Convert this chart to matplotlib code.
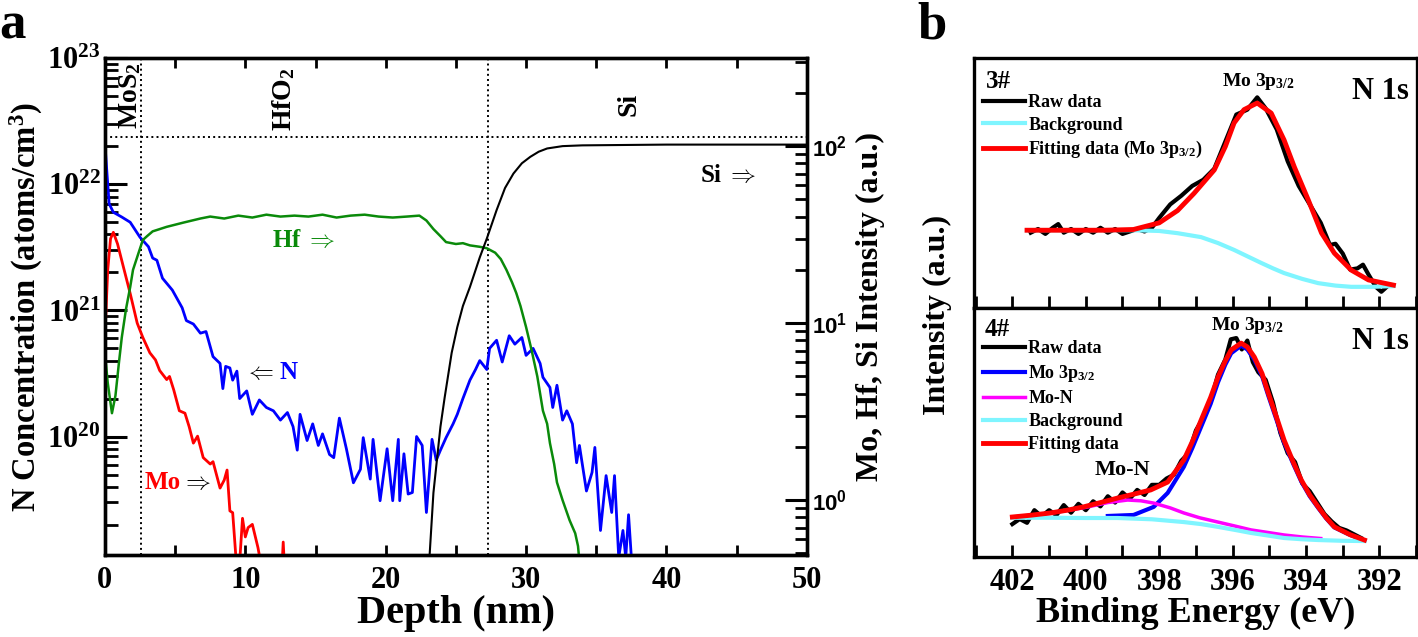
import matplotlib
matplotlib.use("Agg")
import matplotlib.pyplot as plt
from matplotlib.ticker import LogLocator, MultipleLocator, NullFormatter

plt.rcParams['font.family'] = ['Liberation Serif', 'DejaVu Serif']
plt.rcParams['font.weight'] = 'bold'
plt.rcParams['mathtext.fontset'] = 'custom'
plt.rcParams['mathtext.rm'] = 'Liberation Serif:bold'
plt.rcParams['mathtext.bf'] = 'Liberation Serif:bold'
plt.rcParams['mathtext.it'] = 'Liberation Serif:bold:italic'

# ---- panel a: depth profile ----
n_depth = [0.0, 0.15, 0.3, 0.6, 1.2, 1.8, 2.5, 3.1, 3.4, 3.7, 4.1, 4.8, 5.5, 5.8, 6.3, 6.8,
           7.2, 7.7, 8.2, 8.4, 8.6, 8.9, 9.1, 9.4, 9.6, 10.1, 10.5, 11.0, 11.5, 12.0, 12.5,
           13.0, 13.4, 13.7, 13.9, 14.4, 14.8, 15.2, 15.5, 16.0, 16.3, 16.7, 17.2, 17.7,
           18.2, 18.4, 18.9, 19.1, 19.6, 20.1, 20.5, 20.9, 21.0, 21.3, 21.6, 21.9, 22.2,
           22.6, 22.9, 23.3, 23.6, 23.9, 24.3, 24.8, 25.1, 25.5, 26.0, 26.4, 26.7, 27.2,
           27.4, 27.9, 28.3, 28.8, 29.2, 29.7, 30.0, 30.5, 31.0, 31.2, 31.7, 31.9, 32.2,
           32.6, 32.9, 33.3, 33.6, 33.8, 34.3, 34.7, 34.9, 35.3, 35.7, 36.1, 36.3, 36.6,
           36.9, 37.1, 37.3, 37.5, 37.9]
n_conc = [2.1e22, 1.2e22, 7.0e21, 6.0e21, 5.5e21, 5.0e21, 3.8e21, 3.2e21, 2.6e21, 2.5e21,
          1.8e21, 1.45e21, 1.05e21, 8.3e20, 7.8e20, 6.6e20, 6.8e20, 4.3e20, 3.8e20, 2.4e20,
          3.6e20, 3.5e20, 2.8e20, 3.3e20, 2.0e20, 2.3e20, 1.5e20, 1.95e20, 1.7e20, 1.6e20,
          1.35e20, 1.55e20, 1.2e20, 7.8e19, 1.5e20, 9.3e19, 1.26e20, 8.5e19, 1.05e20,
          7.2e19, 6.8e19, 1.4e20, 8.0e19, 4.3e19, 5.5e19, 9.8e19, 4.6e19, 9.5e19, 3.1e19,
          8.0e19, 3.1e19, 9.5e19, 3.1e19, 7.3e19, 3.5e19, 3.6e19, 1.0e20, 8.5e19, 2.5e19,
          9.5e19, 6.5e19, 7.8e19, 9.8e19, 1.26e20, 1.5e20, 2.0e20, 2.8e20, 3.4e20, 4.0e20,
          3.4e20, 5.0e20, 5.8e20, 3.9e20, 6.3e20, 5.4e20, 6.1e20, 4.4e20, 5.0e20, 3.8e20,
          2.95e20, 2.45e20, 1.7e20, 2.55e20, 1.35e20, 1.6e20, 1.26e20, 6.2e19, 8.5e19,
          3.7e19, 5.2e19, 8.2e19, 1.8e19, 4.9e19, 2.5e19, 4.9e19, 1.1e19, 1.8e19, 1.1e19,
          2.4e19, 1.1e19, 1.1e19]

mo_depth = [0.0, 0.2, 0.4, 0.6, 0.9, 1.3, 1.8, 2.3, 2.7, 3.2, 3.6, 3.9, 4.4, 4.6, 4.9, 5.3,
            5.7, 6.0, 6.3, 6.6, 7.0, 7.5, 7.7, 8.2, 8.5, 8.7, 8.9, 9.1, 9.4, 9.6, 9.8, 10.0,
            10.2, 10.5, 10.9, 11.2, 12.6, 12.7, 12.8]
mo_int = [8.5, 20, 30, 32.6, 28, 21, 14.7, 10, 8.3, 6.8, 6.2, 5.4, 4.8, 5.0, 4.2, 3.2,
          3.1, 2.6, 2.1, 2.3, 1.74, 1.6, 1.65, 1.17, 1.3, 1.48, 0.87, 0.85, 0.4, 0.45, 0.79,
          0.62, 0.7, 0.73, 0.54, 0.4, 0.4, 0.58, 0.4]

hf_depth = [0.0, 0.2, 0.5, 0.75, 1.0, 1.2, 1.5, 1.8, 2.0, 2.4, 2.7, 3.0, 3.4, 4.4, 5.6, 6.8,
            7.5, 8.5, 9.5, 10.5, 11.5, 12.5, 13.5, 14.5, 15.5, 16.5, 17.5, 18.5, 19.5, 20.5,
            21.5, 22.4, 22.9, 23.4, 23.9, 24.3, 25.0, 25.5, 26.0, 26.7, 27.2, 27.8, 28.2,
            28.6, 29.0, 29.3, 29.6, 30.0, 30.4, 30.8, 31.2, 31.5, 31.7, 32.0, 32.2, 32.6,
            33.1, 33.5, 33.7, 33.8]
hf_int = [6.8, 4.6, 3.1, 3.9, 6.0, 8.3, 12.0, 16, 20, 25, 29.5, 31, 33, 35, 37, 39,
          40, 39, 40.5, 39.5, 41, 40, 40.5, 40, 41, 39.5, 40.5, 41, 40, 39.5,
          40, 40.5, 38, 34, 31, 28.7, 28, 28.3, 27.5, 27, 26.5, 25, 23,
          20, 17, 14.8, 12.5, 9.5, 7, 5.0, 3.2, 2.7, 2.1, 1.6, 1.26, 1.0,
          0.77, 0.65, 0.55, 0.45]

si_depth = [23.1, 23.4, 23.9, 24.2, 24.7, 25.1, 25.5, 26.0, 26.7, 27.2, 27.9, 28.5, 29.1,
            29.7, 30.3, 30.9, 31.5, 32.6, 34.0, 40.0, 45.0, 50.0]
si_int = [0.45, 1.1, 2.6, 3.8, 6.8, 9.5, 12.5, 16, 23.5, 30, 43.5, 58, 70,
          80, 87, 93, 97, 100, 101, 102, 102, 102]

mos2_edge = 2.6
hfo2_edge = 27.3
top_level = 2.35e22

# ---- panel b: XPS N 1s ----
raw3_e = [401.5, 401.3, 401.1, 400.9, 400.75, 400.6, 400.4, 400.2, 400.0, 399.8, 399.6,
          399.4, 399.2, 399.0, 398.8, 398.6, 398.4, 398.2, 398.0, 397.7, 397.4, 397.1,
          396.8, 396.5, 396.2, 395.9, 395.6, 395.33, 395.1, 394.8, 394.5, 394.2, 393.9,
          393.6, 393.35, 393.2, 393.0, 392.8, 392.6, 392.45, 392.3, 392.1, 391.95, 391.8]
raw3_v = [29, 30.5, 28.5, 31, 32.5, 29, 30.5, 28.5, 30.5, 29, 31, 29, 30.5, 28.5, 29.5,
          30.5, 29.5, 31, 35, 40.5, 44, 48, 50.5, 55, 66, 77, 79, 84, 79.5, 71, 58, 48,
          40.5, 33, 24, 24.5, 20.5, 14, 14.5, 16, 12, 7, 5, 7]
fit3_e = [401.6, 400.5, 399.5, 398.7, 398.0, 397.5, 397.05, 396.5, 396.2, 395.96, 395.69,
          395.33, 394.95, 394.6, 394.32, 393.94, 393.58, 393.23, 392.77, 392.3, 391.62]
fit3_v = [30, 30, 30, 30.3, 33, 38, 45, 54.5, 64, 73.6, 79, 81.7, 77.6, 66.7, 55.7, 42.3,
          28.9, 20.7, 13.8, 9.8, 7.7]
bg3_e = [401.6, 400.0, 398.7, 398.0, 397.5, 396.86, 396.4, 395.96, 395.5, 395.22, 394.9,
         394.6, 394.1, 393.67, 393.2, 392.77, 392.2, 391.62]
bg3_v = [30, 30, 30, 29.7, 28.8, 27.2, 24.8, 22, 18.7, 16.7, 14.5, 12.6, 10.2, 8.5, 7.5,
         7, 7, 7.3]

raw4_e = [402.0, 401.8, 401.6, 401.4, 401.2, 401.0, 400.8, 400.6, 400.4, 400.2, 400.0,
          399.8, 399.6, 399.4, 399.2, 399.0, 398.8, 398.6, 398.4, 398.2, 398.0, 397.8,
          397.6, 397.4, 397.2, 397.0, 396.8, 396.6, 396.4, 396.2, 396.05, 395.9, 395.75,
          395.6, 395.45, 395.3, 395.1, 394.9, 394.7, 394.5, 394.3, 394.1, 393.9, 393.7,
          393.5, 393.3, 393.1, 392.9, 392.7, 392.5]
raw4_v = [13, 15, 13.5, 18.5, 16, 18.5, 16.5, 20.5, 17.5, 21, 18.5, 22, 20, 24, 21.5, 25.5,
          23, 26.5, 24.5, 28.5, 28.5, 31, 32.5, 38, 41, 50, 55, 61.5, 72, 78, 86, 86.5, 82,
          85.5, 77, 73, 70, 61, 49, 41, 37.5, 29, 26, 21.5, 17, 14, 11.5, 10.5, 9, 7.5]
fit4_e = [402.0, 401.5, 400.96, 400.5, 400.06, 399.6, 399.13, 398.7, 398.23, 397.77,
          397.33, 397.1, 396.86, 396.6, 396.4, 396.2, 396.04, 395.77, 395.6, 395.41, 395.2,
          395.03, 394.8, 394.6, 394.35, 394.13, 393.9, 393.67, 393.45, 393.23, 392.8, 392.41]
fit4_v = [15.8, 16.5, 17.4, 18.5, 19.8, 21.5, 23.3, 24.8, 26.5, 29.6, 38.3, 45.5, 54, 63,
          71, 77.5, 81.8, 84.5, 83, 79, 72.5, 64.8, 55, 46.2, 37.5, 30.4, 24.5, 19.8, 15.5,
          11.9, 8.8, 6.7]
peak4_e = [399.4, 398.7, 398.15, 397.77, 397.33, 397.1, 396.86, 396.6, 396.4, 396.2,
           396.04, 395.77, 395.6, 395.41, 395.2, 395.03, 394.8, 394.6, 394.35, 394.13,
           393.9, 393.67, 393.45, 393.23, 392.8, 392.41]
peak4_v = [16.2, 16.6, 19.8, 25.3, 35.6, 43, 51.4, 60.5, 69, 76, 80.5, 83.5, 82, 78, 71.5,
           63.8, 54, 45.3, 36.8, 29.8, 24, 19.4, 15.2, 11.7, 8.7, 6.6]
mon_e = [402.0, 401.0, 400.0, 399.4, 398.86, 398.5, 398.15, 397.7, 397.33, 396.9, 396.4,
         395.9, 395.5, 395.0, 394.6, 394.1, 393.6]
mon_v = [15.8, 17.2, 19.6, 21.5, 22.5, 22.2, 21.3, 19.4, 17.4, 15.5, 13.8, 12.1, 10.7,
         9.6, 8.7, 7.9, 7.3]
bg4_e = [402.0, 401.0, 400.0, 399.13, 398.2, 397.33, 396.86, 396.4, 395.9, 395.5, 395.0,
         394.6, 394.1, 393.67, 393.0, 392.41]
bg4_v = [15.5, 15.5, 15.4, 15.4, 14.9, 13.8, 13.0, 11.9, 10.6, 9.5, 8.4, 7.5, 7.0, 6.7,
         6.4, 6.3]

SERIF = ['Liberation Serif', 'DejaVu Serif']
CYAN = '#7ff5ff'
GREEN = '#0a8a0a'
RARROW = r'$\Rightarrow$'
LARROW = r'$\Leftarrow$'

fig = plt.figure(figsize=(14.18, 6.37), dpi=100)

# ============ panel a ============
ax = fig.add_axes([0.074, 0.1287, 0.495, 0.780])
ax2 = ax.twinx()

ax.semilogy(n_depth, n_conc, color='#0000ff', lw=2.0, zorder=3)
ax2.semilogy(mo_depth, mo_int, color='#ff0000', lw=2.0)
ax2.semilogy(hf_depth, hf_int, color=GREEN, lw=1.8)
ax2.semilogy(si_depth, si_int, color='black', lw=1.5)

ax.axvline(mos2_edge, color='black', ls=':', lw=1.4)
ax.axvline(hfo2_edge, color='black', ls=':', lw=1.4)
ax.axhline(top_level, color='black', ls=':', lw=1.4)

ax.set_xlim(0, 50)
ax.set_ylim(1.15e19, 1e23)
ax2.set_ylim(0.49, 314)

ax.xaxis.set_major_locator(MultipleLocator(10))
ax.xaxis.set_minor_locator(MultipleLocator(5))
ax.yaxis.set_major_locator(LogLocator(base=10))
ax.yaxis.set_minor_locator(LogLocator(base=10, subs=range(2, 10)))
ax.yaxis.set_minor_formatter(NullFormatter())
ax2.yaxis.set_major_locator(LogLocator(base=10))
ax2.yaxis.set_minor_locator(LogLocator(base=10, subs=range(2, 10)))
ax2.yaxis.set_minor_formatter(NullFormatter())

ax.tick_params(axis='x', which='both', direction='in', top=True, length=7, width=2,
               labelsize=22, pad=8)
ax.tick_params(axis='y', which='major', direction='in', length=16, width=2.2,
               labelsize=22, pad=3)
ax.tick_params(axis='y', which='minor', direction='in', length=9, width=2)
ax2.tick_params(axis='y', which='major', direction='in', length=16, width=2.2,
                labelsize=16, pad=4, labelfontfamily='Liberation Sans')
ax2.tick_params(axis='y', which='minor', direction='in', length=9, width=2)
for a in (ax, ax2):
    for s in a.spines.values():
        s.set_linewidth(2.4)

ax.set_xlabel('Depth (nm)', fontsize=29, fontweight='bold', labelpad=0)
ax.set_ylabel('N Concentration (atoms/cm$^3$)', fontsize=23.5, fontweight='bold',
              labelpad=2)
ax2.set_ylabel('Mo, Hf, Si Intensity (a.u.)', fontsize=23, fontweight='bold', labelpad=6)

ax.text(1.8, 5.0e22, 'MoS$_2$', rotation=90, ha='center', va='center', fontsize=20,
        fontweight='bold')
ax.text(12.7, 4.7e22, 'HfO$_2$', rotation=90, ha='center', va='center', fontsize=20,
        fontweight='bold')
ax.text(37.3, 4.3e22, 'Si', rotation=90, ha='center', va='center', fontsize=20,
        fontweight='bold')
ax.text(11.9, 3.6e21, 'Hf ' + RARROW, color=GREEN, ha='left', va='center', fontsize=18,
        fontweight='bold', family=SERIF)
ax.text(10.0, 3.2e20, LARROW, color='black', ha='left', va='center', fontsize=18,
        fontweight='bold', family=SERIF)
ax.text(12.4, 3.2e20, 'N', color='#0000ff', ha='left', va='center', fontsize=18,
        fontweight='bold', family=SERIF)
ax.text(2.85, 4.3e19, 'Mo', color='#ff0000', ha='left', va='center', fontsize=18,
        fontweight='bold', family=SERIF)
ax.text(5.5, 4.3e19, RARROW, color='black', ha='left', va='center', fontsize=18,
        fontweight='bold', family=SERIF)
ax.text(42.4, 1.18e22, 'Si ' + RARROW, color='black', ha='left', va='center', fontsize=18,
        fontweight='bold', family=SERIF)

# ============ panel b ============
ax3 = fig.add_axes([0.687, 0.5165, 0.312, 0.3925])
ax4 = fig.add_axes([0.687, 0.1256, 0.312, 0.391])

ax3.plot(raw3_e, raw3_v, color='black', lw=3, label='Raw data')
ax3.plot(bg3_e, bg3_v, color=CYAN, lw=3, label='Background')
ax3.plot(fit3_e, fit3_v, color='#ff0000', lw=3.5, label='Fitting data (Mo 3p$_{3/2}$)')

ax4.plot(raw4_e, raw4_v, color='black', lw=3, label='Raw data')
ax4.plot(peak4_e, peak4_v, color='#0000ff', lw=3, label='Mo 3p$_{3/2}$')
ax4.plot(mon_e, mon_v, color='#ff00ff', lw=2.5, label='Mo-N')
ax4.plot(bg4_e, bg4_v, color=CYAN, lw=3, label='Background')
ax4.plot(fit4_e, fit4_v, color='#ff0000', lw=3.5, label='Fitting data')

for a in (ax3, ax4):
    a.set_xlim(403.04, 390.99)
    a.xaxis.set_major_locator(MultipleLocator(2))
    a.xaxis.set_minor_locator(MultipleLocator(1))
    a.set_yticks([])
    a.tick_params(axis='x', which='both', direction='in', length=9, width=2,
                  labelsize=22, pad=8)
    for s in a.spines.values():
        s.set_linewidth(2.4)
ax3.set_ylim(-1.6, 100)
ax4.set_ylim(0, 98.4)
ax3.tick_params(axis='x', labelbottom=False)

ax3.legend(loc='upper left', bbox_to_anchor=(0.02, 0.855), frameon=False,
           handlelength=2.3, handletextpad=0.2, borderpad=0, borderaxespad=0,
           labelspacing=0.3, prop={'weight': 'bold', 'size': 13})
ax4.legend(loc='upper left', bbox_to_anchor=(0.02, 0.87), frameon=False,
           handlelength=2.3, handletextpad=0.2, borderpad=0, borderaxespad=0,
           labelspacing=0.33, prop={'weight': 'bold', 'size': 13})

ax3.text(0.055, 0.905, '3#', transform=ax3.transAxes, ha='center', va='center',
         fontsize=18, fontweight='bold')
ax3.text(0.643, 0.905, 'Mo 3p$_{3/2}$', transform=ax3.transAxes, ha='center',
         va='center', fontsize=14, fontweight='bold')
ax3.text(0.918, 0.864, 'N 1s', transform=ax3.transAxes, ha='center', va='center',
         fontsize=22, fontweight='bold')
ax4.text(0.052, 0.912, '4#', transform=ax4.transAxes, ha='center', va='center',
         fontsize=18, fontweight='bold')
ax4.text(0.618, 0.93, 'Mo 3p$_{3/2}$', transform=ax4.transAxes, ha='center',
         va='center', fontsize=14, fontweight='bold')
ax4.text(0.918, 0.867, 'N 1s', transform=ax4.transAxes, ha='center', va='center',
         fontsize=22, fontweight='bold')
ax4.text(0.335, 0.349, 'Mo-N', transform=ax4.transAxes, ha='center', va='center',
         fontsize=16, fontweight='bold')

ax4.set_xlabel('Binding Energy (eV)', fontsize=26, fontweight='bold', labelpad=0)
fig.text(937 / 1418, 1 - 315 / 637, 'Intensity (a.u.)', rotation=90, ha='center',
         va='center', fontsize=23, fontweight='bold')

fig.text(12 / 1418, 0.998, 'a', ha='center', va='top', fontsize=38, fontweight='bold')
fig.text(932 / 1418, 0.998, 'b', ha='center', va='top', fontsize=38, fontweight='bold')

fig.savefig('out.png', dpi=100)
